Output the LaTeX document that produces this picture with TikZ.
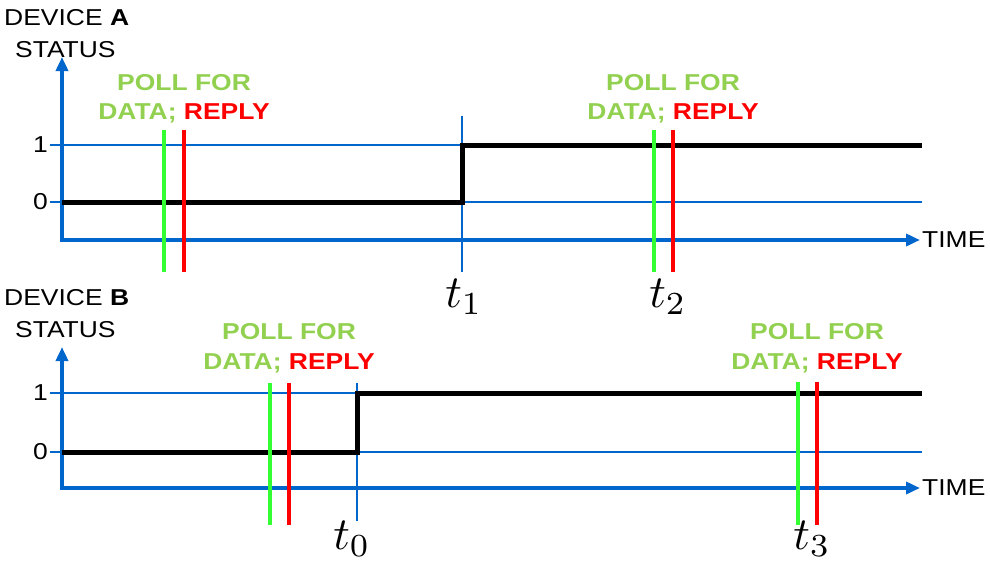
\documentclass[tikz,border=0pt]{standalone}
\usepackage{graphicx}
\usepackage{fontspec}
\setmainfont{Liberation Sans}[FakeStretch=1.15]
\usepackage{xcolor}
\usetikzlibrary{arrows.meta}

\definecolor{axisblue}{RGB}{0,102,204}
\definecolor{pollgreen}{RGB}{146,208,80}
\definecolor{polline}{RGB}{51,255,51}
\definecolor{replyred}{RGB}{255,0,0}

% big math labels for the instants
\newcommand{\instant}[1]{\scalebox{4.6}{$t_{#1}$}}

\begin{document}
\begin{tikzpicture}[x=1pt, y=-1pt,
  axis/.style={axisblue, line width=4pt, line join=miter,
    {Triangle[length=14pt,width=12pt]}-{Triangle[length=14pt,width=12pt]}},
  level/.style={axisblue, line width=1.2pt},
  signal/.style={black, line width=5pt, line join=miter},
  pollline/.style={polline, line width=4pt},
  replyline/.style={replyred, line width=4pt},
  txt/.style={inner sep=0pt, font=\fontsize{23}{27}\selectfont},
  polltxt/.style={txt, font=\fontsize{23}{27}\selectfont\bfseries, pollgreen},
  tlabel/.style={inner sep=0pt}]
  \useasboundingbox (0,0) rectangle (990,562);

  %%%% device A
  \node[txt, anchor=west] (devA) at (4,18) {DEVICE \textbf{A}};
  \node[txt, anchor=west] (statA) at (15,50) {STATUS};

  % levels
  \draw[level] (50,145) coordinate (a1) -- (922,145);
  \draw[level] (50,202) coordinate (a0) -- (922,202);
  \node[txt, anchor=east] at ([xshift=-2pt]a1) {1};
  \node[txt, anchor=east] at ([xshift=-2pt]a0) {0};

  % change of state
  \draw[level] (462,116) -- (462,272) coordinate (t1);
  \node[tlabel] at (464,297) {\instant{1}};

  % axes
  \draw[axis] (62,57) -- (62,240) -- (920,240) coordinate (timeA);
  \node[txt, anchor=west] at ([xshift=2pt]timeA) {TIME};

  % status
  \draw[signal] (62,202) -- (462,202) -- (462,145) -- (922,145);

  % polls
  \draw[pollline] (164,130) -- (164,272);
  \draw[replyline] (184,130) -- (184,272);
  \node[polltxt] at (184,83) {POLL FOR};
  \node[polltxt] at (184,113) {DATA; \textcolor{replyred}{REPLY}};

  \draw[pollline] (654,130) -- (654,272);
  \draw[replyline] (673,130) -- (673,272);
  \node[polltxt] at (673,83) {POLL FOR};
  \node[polltxt] at (673,113) {DATA; \textcolor{replyred}{REPLY}};
  \node[tlabel] at (668,297) {\instant{2}};

  %%%% device B
  \node[txt, anchor=west] (devB) at (4,298) {DEVICE \textbf{B}};
  \node[txt, anchor=west] (statB) at (15,330) {STATUS};

  % levels
  \draw[level] (50,393) coordinate (b1) -- (922,393);
  \draw[level] (50,452) coordinate (b0) -- (922,452);
  \node[txt, anchor=east] at ([xshift=-2pt]b1) {1};
  \node[txt, anchor=east] at ([xshift=-2pt]b0) {0};

  % change of state
  \draw[level] (357,383) -- (357,521) coordinate (t0);
  \node[tlabel] at (352,539) {\instant{0}};

  % axes
  \draw[axis] (62,347) -- (62,488) -- (920,488) coordinate (timeB);
  \node[txt, anchor=west] at ([xshift=2pt]timeB) {TIME};

  % status
  \draw[signal] (62,452) -- (357,452) -- (357,393) -- (922,393);

  % polls
  \draw[pollline] (270,383) -- (270,525);
  \draw[replyline] (289,383) -- (289,525);
  \node[polltxt] at (289,332) {POLL FOR};
  \node[polltxt] at (289,363) {DATA; \textcolor{replyred}{REPLY}};

  \draw[pollline] (798,382) -- (798,525);
  \draw[replyline] (817,382) -- (817,525);
  \node[polltxt] at (817,332) {POLL FOR};
  \node[polltxt] at (817,363) {DATA; \textcolor{replyred}{REPLY}};
  \node[tlabel] at (812,539) {\instant{3}};
\end{tikzpicture}
\end{document}
